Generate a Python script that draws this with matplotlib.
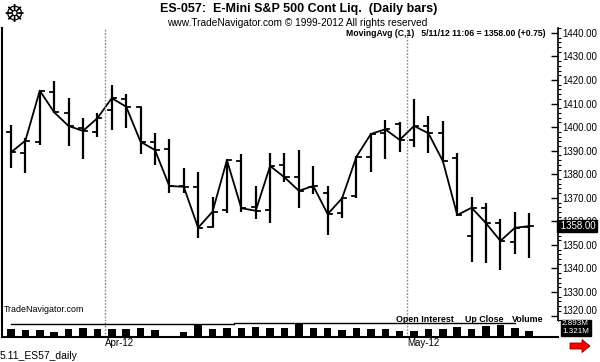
import pandas as pd
import matplotlib.pyplot as plt
import matplotlib.transforms as mtransforms
from matplotlib.patches import Rectangle, FancyArrow
from matplotlib.ticker import MultipleLocator

plt.rcParams['font.family'] = ['Liberation Sans', 'DejaVu Sans']

# Daily bars, ES continuous, 22 Mar - 11 May 2012
dates = pd.bdate_range("2012-03-22", "2012-05-11")

opens = [1397.8, 1389.2, 1393.8, 1415.1, 1406.2, 1399.5, 1398.1, 1407.3, 1411.8, 1408.7,
         1393.8, 1390.6, 1375.0, 1374.5, 1357.7, 1364.8, 1385.8, 1366.2, 1364.8, 1383.8,
         1379.0, 1374.5, 1372.2, 1363.4, 1370.8, 1387.2, 1397.4, 1401.2, 1394.6, 1400.6,
         1397.4, 1386.8, 1353.8, 1365.6, 1359.2, 1351.4, 1357.5]
highs = [1400.9, 1395.3, 1415.8, 1419.8, 1412.3, 1404.0, 1406.0, 1417.9, 1414.1, 1408.7,
         1397.7, 1394.9, 1382.5, 1381.1, 1370.5, 1386.5, 1388.6, 1375.0, 1388.9, 1388.9,
         1390.3, 1383.5, 1375.0, 1370.5, 1387.8, 1397.7, 1403.1, 1402.3, 1411.8, 1404.8,
         1402.8, 1389.2, 1370.5, 1368.0, 1360.9, 1364.1, 1363.4]
lows = [1382.5, 1380.4, 1392.4, 1405.8, 1392.0, 1386.4, 1396.0, 1398.8, 1399.5, 1388.6,
        1384.0, 1372.2, 1371.9, 1352.8, 1357.7, 1363.4, 1364.1, 1360.9, 1359.2, 1376.9,
        1365.6, 1371.5, 1354.2, 1361.3, 1369.8, 1381.1, 1386.4, 1389.6, 1391.5, 1389.2,
        1385.4, 1362.3, 1342.8, 1342.3, 1339.4, 1346.2, 1344.3]
closes = [1389.3, 1394.3, 1415.5, 1406.3, 1400.5, 1398.4, 1403.8, 1412.3, 1408.7, 1393.8,
          1390.3, 1375.0, 1374.7, 1357.3, 1364.1, 1386.0, 1365.6, 1364.5, 1383.5, 1378.7,
          1373.0, 1375.0, 1363.1, 1369.8, 1387.5, 1397.1, 1399.1, 1394.6, 1400.5, 1397.4,
          1385.6, 1362.7, 1365.8, 1359.2, 1351.7, 1357.25, 1358.0]
# volume in millions of contracts
volume = [1.50, 1.30, 1.30, 0.96, 1.50, 1.70, 1.50, 1.44, 1.50, 1.70,
          1.30, 0.08, 0.84, 2.43, 1.50, 1.70, 1.70, 1.84, 1.70, 1.70,
          2.63, 1.64, 1.64, 1.30, 1.64, 1.50, 1.50, 1.16, 1.16, 1.50,
          1.50, 1.84, 1.50, 2.10, 2.29, 1.64, 1.16]
# open interest (same scale as the volume panel), not reported for last bar
open_interest = [2.43] * 16 + [2.71] * 20

price_ticks = list(range(1320, 1441, 10))

W, H = 600, 362
fig = plt.figure(figsize=(W / 100, H / 100), dpi=100)


def fx(x):
    return x / W


def fy(y):
    return 1 - y / H


ax = fig.add_axes([fx(2), fy(321), fx(556), 293 / H])
vax = fig.add_axes([fx(2), fy(337), fx(556), 16 / H])

idx = list(range(len(dates)))
tick = 0.28

# OHLC bars
for i in idx:
    ax.plot([i, i], [lows[i], highs[i]], color="black", lw=1.6, solid_capstyle="butt")
    ax.plot([i - tick, i], [opens[i], opens[i]], color="black", lw=1.3)
    ax.plot([i, i + tick], [closes[i], closes[i]], color="black", lw=1.3)

# MovingAvg (C,1)
ax.plot(idx, closes, color="black", lw=1.3)

ax.set_xlim(-0.625, 38.0)
ax.set_ylim(1317.7, 1442.1)
ax.yaxis.tick_right()
ax.set_yticks(price_ticks)
# lowest label sits a little higher, above the volume scale box
ax.set_yticklabels([""] + ["%.2f" % v for v in price_ticks[1:]])
ax.yaxis.set_minor_locator(MultipleLocator(2))
ax.tick_params(axis="y", which="major", direction="in", length=5, width=1, labelsize=7, pad=3)
ax.tick_params(axis="y", which="minor", direction="out", length=2, width=0.8)
ax.set_xticks([])
for s in ["top", "bottom"]:
    ax.spines[s].set_visible(False)
ax.spines["left"].set_linewidth(1.5)
ax.spines["right"].set_linewidth(1.2)

ytrans = ax.get_yaxis_transform() + mtransforms.ScaledTranslation(3 / 72, 5 / 100, fig.dpi_scale_trans)
ax.text(1.0, price_ticks[0], "%.2f" % price_ticks[0], transform=ytrans,
        ha="left", va="center", fontsize=7)

# last price box
ax.text(1.0, closes[-1], " %.2f" % closes[-1], transform=ax.get_yaxis_transform(),
        ha="left", va="center", fontsize=7, color="white", zorder=10,
        bbox=dict(boxstyle="square,pad=0.1", fc="black", ec="black"))

# month separators
month_pos = []
month_lab = []
for i in range(1, len(dates)):
    if dates[i].month != dates[i - 1].month:
        month_pos.append(i - 0.5)
        month_lab.append(dates[i].strftime("%b-%y"))
for p in month_pos:
    ax.axvline(p, color="#888888", ls=(0, (1.2, 1.2)), lw=1)
    vax.axvline(p, color="#888888", ls=(0, (1.2, 1.2)), lw=1)

# volume panel
vax.bar(idx, volume, width=0.52, color="black")
vax.plot(idx[:len(open_interest)], open_interest, color="black", lw=1, drawstyle="steps-mid")
vax.set_xlim(-0.625, 38.0)
vax.set_ylim(-0.1, 3.09)
vax.set_yticks([])
vax.set_xticks([])
for s in ["top", "right"]:
    vax.spines[s].set_visible(False)
vax.spines["left"].set_linewidth(1.5)
vax.spines["bottom"].set_linewidth(1.5)

trans = mtransforms.blended_transform_factory(vax.transData, fig.transFigure)
for p, lab in zip(month_pos, month_lab):
    vax.text(p, fy(343), lab, transform=trans, ha="left", va="center", fontsize=7)

# logo
fig.text(fx(14), fy(15), "\u2638", ha="center", va="center", fontsize=17,
         family="DejaVu Sans", color="black")

# header texts
fig.text(fx(160), fy(9), "ES-057:  E-Mini S&P 500 Cont Liq.  (Daily bars)",
         ha="left", va="center", fontsize=9, fontweight="bold")
fig.text(fx(167), fy(23), "www.TradeNavigator.com \u00a9 1999-2012 All rights reserved",
         ha="left", va="center", fontsize=7.3)
fig.text(fx(545), fy(34), "MovingAvg (C,1)   5/11/12 11:06 = 1358.00 (+0.75)",
         ha="right", va="center", fontsize=6.2, fontweight="bold")
fig.text(fx(4), fy(310), "TradeNavigator.com", ha="left", va="center", fontsize=6.4)
for x, lab in [(396, "Open Interest"), (465, "Up Close"), (512, "Volume")]:
    fig.text(fx(x), fy(319), lab, ha="left", va="center", fontsize=6.4, fontweight="bold")
fig.text(fx(0), fy(356), "5.11_ES57_daily", ha="left", va="center", fontsize=7.5)

# volume scale box
fig.patches.append(Rectangle((fx(561), fy(336)), fx(30), 16 / H, transform=fig.transFigure,
                             fc="black", ec="black"))
fig.text(fx(562), fy(323.5), "2.893M", ha="left", va="center", fontsize=5.8, color="white")
fig.text(fx(562), fy(331.5), "1.321M", ha="left", va="center", fontsize=5.8, color="white")

# red arrow
fig.patches.append(FancyArrow(fx(570), fy(346), fx(12), 0, width=6 / H, head_width=13 / H,
                              head_length=fx(8), transform=fig.transFigure,
                              fc="red", ec="#880000", lw=0.6))

fig.savefig("out.png", dpi=100)
